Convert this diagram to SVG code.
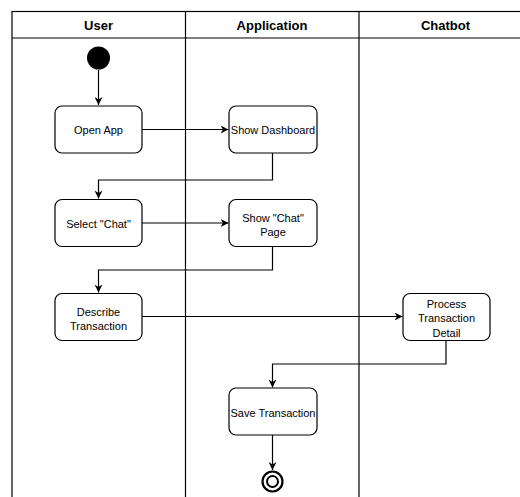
<svg xmlns="http://www.w3.org/2000/svg" width="520" height="497" viewBox="0 0 520 497">
<style>
.lane{fill:none;stroke:#000;stroke-width:1.2}
.hdr{font-family:"Liberation Sans",Arial,sans-serif;font-size:13px;font-weight:bold;text-anchor:middle;fill:#000}
.node rect{fill:#fff;stroke:#000;stroke-width:1.2}
.node text{font-family:"Liberation Sans",Arial,sans-serif;font-size:11px;text-anchor:middle;fill:#000}
.edge{fill:none;stroke:#000;stroke-width:1.2;marker-end:url(#arr)}
</style>
<defs>
<marker id="arr" viewBox="0 0 10 10" refX="10" refY="5" markerWidth="8" markerHeight="8" markerUnits="userSpaceOnUse" orient="auto">
<path d="M0,0 L10,5 L0,10 L3,5 Z" fill="#000"/>
</marker>
</defs>
<rect width="520" height="497" fill="#fff"/>
<g id="lanes">
<rect class="lane" x="12" y="11.5" width="520" height="500"/>
<line class="lane" x1="12" y1="38" x2="532" y2="38"/>
<line class="lane" x1="185.5" y1="11.5" x2="185.5" y2="510"/>
<line class="lane" x1="359" y1="11.5" x2="359" y2="510"/>
<text class="hdr" x="98.5" y="30">User</text>
<text class="hdr" x="272" y="30">Application</text>
<text class="hdr" x="445.5" y="30">Chatbot</text>
</g>
<g id="edges">
<path class="edge" d="M98.5,70 V105"/>
<path class="edge" d="M142,129.5 H228.5"/>
<path class="edge" d="M272.5,153 V180 H98.5 V198.5"/>
<path class="edge" d="M142,223 H228.5"/>
<path class="edge" d="M272.5,247 V270 H98.5 V292.5"/>
<path class="edge" d="M142,316.5 H402.5"/>
<path class="edge" d="M446,341 V364 H272.5 V387.5"/>
<path class="edge" d="M272.5,435 V470"/>
</g>
<g id="start"><circle cx="98.5" cy="58" r="11.5" fill="#000"/></g>
<g id="openApp" class="node"><rect x="55" y="106" width="87" height="47" rx="7"/><text x="98.5" y="133.5">Open App</text></g>
<g id="showDashboard" class="node"><rect x="229" y="106" width="88" height="47" rx="7"/><text x="273" y="133.5">Show Dashboard</text></g>
<g id="selectChat" class="node"><rect x="55" y="199.5" width="87" height="47" rx="7"/><text x="98.5" y="228">Select "Chat"</text></g>
<g id="showChatPage" class="node"><rect x="229" y="199.5" width="88" height="47" rx="7"/><text x="273" y="221.5">Show "Chat"</text><text x="273" y="235.5">Page</text></g>
<g id="describeTransaction" class="node"><rect x="55" y="293.5" width="87" height="47" rx="7"/><text x="98.5" y="315.5">Describe</text><text x="98.5" y="329.5">Transaction</text></g>
<g id="processTransaction" class="node"><rect x="403" y="293.5" width="87" height="47" rx="7"/><text x="446.5" y="308">Process</text><text x="446.5" y="322">Transaction</text><text x="446.5" y="336.5">Detail</text></g>
<g id="saveTransaction" class="node"><rect x="229" y="388" width="88" height="47" rx="7"/><text x="273" y="416.5">Save Transaction</text></g>
<g id="end"><circle cx="272.5" cy="481.5" r="10" fill="#fff" stroke="#000" stroke-width="2.2"/><circle cx="272.5" cy="481.5" r="5.5" fill="#fff" stroke="#000" stroke-width="2"/></g>
</svg>
